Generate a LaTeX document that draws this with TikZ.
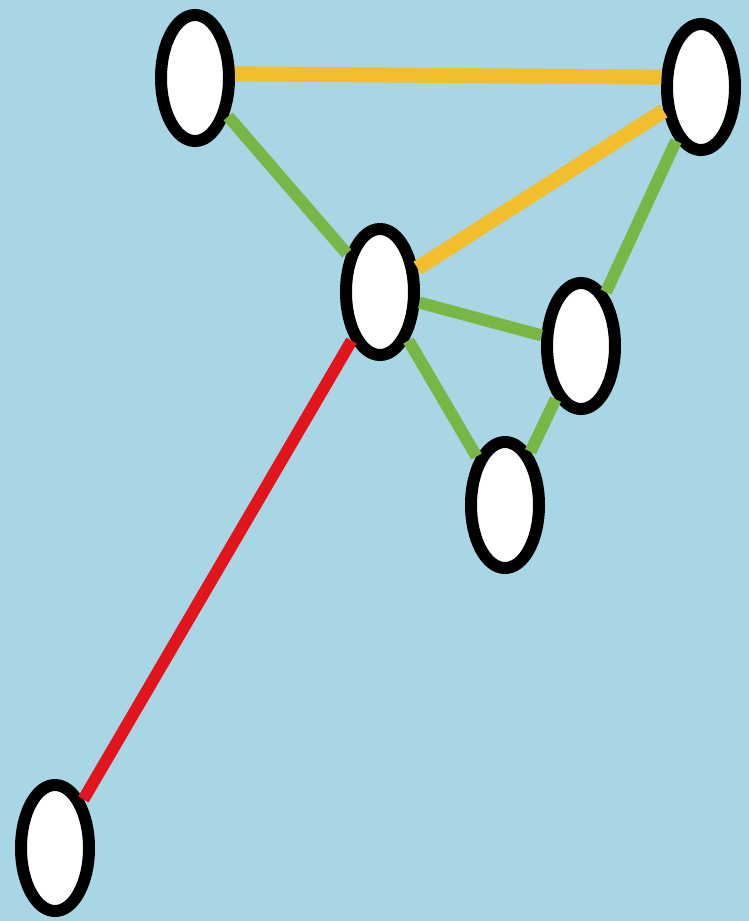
\documentclass[tikz,border=0pt]{standalone}
\usepackage{tikz}
\usepackage{xcolor}
\usetikzlibrary{positioning,shapes.geometric}

\definecolor{skyback}{RGB}{168,214,228}
\definecolor{linkyellow}{RGB}{242,190,45}
\definecolor{linkgreen}{RGB}{120,182,70}
\definecolor{linkred}{RGB}{226,20,28}

\begin{document}
\begin{tikzpicture}[x=1pt,y=-1pt,
  vertex/.style={draw=black, ellipse, line width=12pt, fill=white, minimum width=68pt, minimum height=126pt, inner sep=0pt},
  yline/.style={linkyellow, line width=15pt},
  gline/.style={linkgreen, line width=12pt},
  rline/.style={linkred, line width=12pt}
]
\fill[skyback] (0,0) rectangle (749,921);
\useasboundingbox (0,0) rectangle (749,921);
\node[vertex] (TL) at (195,78) {};
\node[vertex] (TR) at (701,87) {};
\node[vertex] (MID) at (380,292) {};
\node[vertex] (RM) at (581,346) {};
\node[vertex] (BM) at (505,505) {};
\node[vertex] (BL) at (55,848) {};
\draw[yline] (TL.6) -- (TR.166);
\draw[yline] (MID) -- (TR);
\draw[gline] (TL) -- (MID);
\draw[gline] (TR) -- (RM);
\draw[gline] (MID) -- (RM);
\draw[gline] (MID) -- (BM);
\draw[gline] (BM) -- (RM);
\draw[rline] (MID) -- (BL);
\end{tikzpicture}
\end{document}
